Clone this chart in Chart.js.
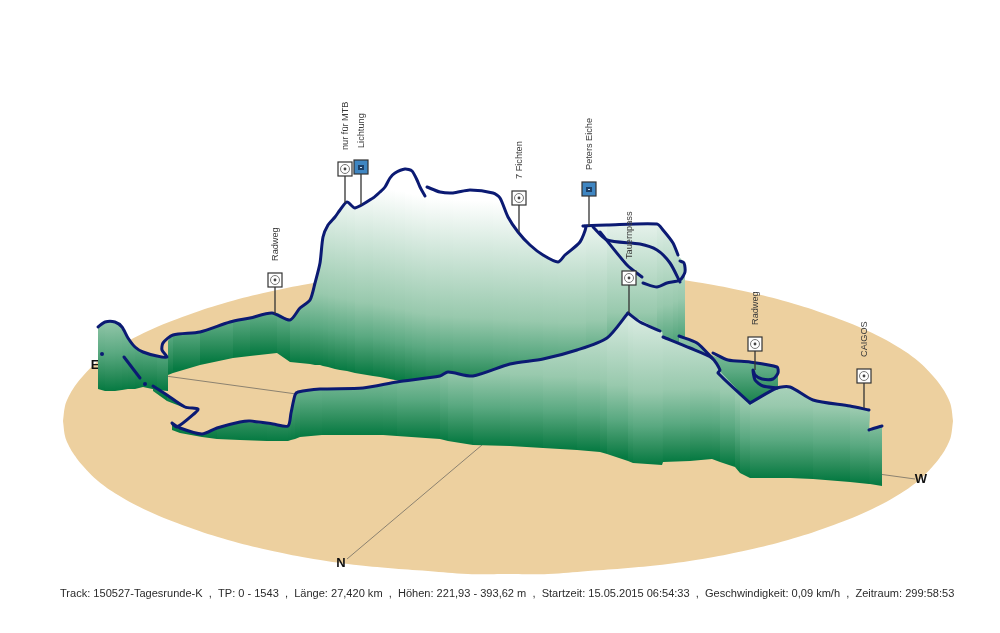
<!DOCTYPE html>
<html>
<head>
<meta charset="utf-8">
<title>150527-Tagesrunde-K</title>
<script src="https://cdn.jsdelivr.net/npm/chart.js"></script>
<style>
  html, body { margin: 0; padding: 0; background: #ffffff; }
  canvas { display: block; }
</style>
</head>
<body>
<canvas id="trackChart" width="1000" height="633"></canvas>
<script>
// ground plate outline
var groundX = [63, 65, 68, 73, 83, 98, 118, 148, 188, 228, 268, 308, 348, 388, 428, 468, 508, 548, 588, 628, 668, 708, 748, 788, 828, 868, 898, 918, 933, 943, 948, 951, 953];
var groundUpper = [421, 406, 398, 389, 376, 361, 347, 331, 315, 302, 292, 284, 278, 274, 271, 268, 268, 268, 271, 274, 278, 284, 292, 302, 315, 331, 347, 361, 376, 389, 398, 406, 421];
var groundLower = [421, 436, 444, 453, 466, 481, 495, 511, 527, 540, 550, 558, 564, 568, 571, 574, 574, 574, 571, 568, 564, 558, 550, 540, 527, 511, 495, 481, 466, 453, 444, 436, 421];

// compass lines
var eastWestX = [100, 915];
var eastWestY = [367, 479];
var northX = [347, 482];
var northY = [559, 445];
var compassNames = ["E", "W", "N"];
var compassX = [95, 921, 341];
var compassY = [365, 479, 563];

// elevation curtains: track height and its foot on the plate
var farX = [168, 173, 200, 233, 250, 277, 290, 300, 310, 315, 320, 323, 328, 335, 340, 347, 355, 373, 380, 385, 390, 395, 405, 412, 417, 420, 425, 426, 440, 453, 470, 493, 500, 508, 518, 530, 543, 558, 565, 580, 586, 607, 657, 663, 673, 678, 685];
var farTop = [341, 335, 332, 321, 318, 313, 320, 308, 300, 283, 263, 237, 225, 217, 210, 202, 208, 198, 192, 187, 178, 173, 169, 171, 180, 187, 196, 187, 192, 193, 190, 193, 198, 217, 232, 245, 255, 262, 255, 242, 226, 225, 224, 230, 243, 255, 263];
var farBase = [375, 373, 365, 358, 356, 353, 362, 363, 364, 365, 365, 366, 367, 369, 370, 371, 373, 376, 377, 378, 379, 380, 382, 384, 385, 385, 386, 386, 388, 389, 390, 391, 392, 392, 393, 393, 394, 395, 395, 395, 395, 390, 380, 378, 375, 372, 370];

var westX = [98, 105, 115, 122, 128, 135, 143, 157, 168];
var westTop = [327, 322, 322, 327, 338, 347, 352, 356, 357];
var westBase = [389, 391, 391, 390, 389, 389, 387, 390, 391];

var sliverX = [153, 167, 185];
var sliverTop = [386, 395, 407];
var sliverBase = [391, 401, 408];

var innerX = [679, 697, 712, 728, 750, 755, 777, 778];
var innerTop = [336, 343, 355, 360, 362, 363, 367, 367];
var innerBase = [405, 408, 410, 410, 410, 410, 410, 410];

var nearX = [172, 180, 202, 217, 240, 267, 288, 291, 295, 300, 322, 363, 383, 397, 440, 448, 473, 510, 543, 577, 600, 607, 628, 633, 662, 663, 690, 712, 720, 735, 740, 750, 763, 777, 790, 813, 850, 869, 870, 882];
var nearTop = [423, 428, 434, 428, 422, 424, 426, 413, 395, 392, 389, 388, 385, 382, 376, 372, 376, 364, 359, 350, 342, 338, 313, 316, 332, 337, 348, 358, 371, 387, 393, 403, 396, 388, 387, 400, 406, 410, 430, 426];
var nearBase = [430, 433, 437, 439, 440, 441, 441, 440, 439, 437, 435, 435, 435, 436, 439, 441, 445, 446, 448, 450, 452, 454, 461, 463, 465, 462, 461, 459, 462, 467, 473, 478, 478, 478, 478, 479, 482, 484, 484, 486];

// GPS track pieces, cut where the track has a sharp corner
var trackAX = [98, 105, 115, 122, 128, 135, 143, 157, 167, 162, 163, 173, 200, 230, 250, 272, 290, 300, 310, 315, 320, 323, 328, 335, 340, 347, 355, 373, 380, 385, 390, 395, 405, 412, 417, 420, 425];
var trackAY = [327, 322, 322, 327, 338, 347, 352, 356, 357, 350, 343, 335, 332, 322, 318, 313, 320, 308, 300, 283, 263, 237, 225, 217, 210, 202, 208, 198, 192, 187, 178, 173, 169, 171, 180, 187, 196];
var trackBX = [427, 440, 453, 470, 493, 500, 508, 518, 530, 543, 558, 565, 580, 586, 583, 607, 657, 663, 673, 678];
var trackBY = [187, 192, 193, 190, 193, 198, 217, 232, 245, 255, 262, 255, 242, 227, 226, 225, 224, 230, 243, 255];
var trackCX = [680, 684, 685, 680, 667, 657, 643];
var trackCY = [261, 263, 272, 280, 283, 287, 283];
var trackDX = [593, 607, 640, 657, 670, 680];
var trackDY = [227, 240, 244, 250, 263, 282];
var trackEX = [600, 627, 642];
var trackEY = [232, 265, 277];
var trackFX = [124, 140];
var trackFY = [357, 378];
var trackGX = [153, 167, 185, 198, 195, 177, 172, 180, 202, 217, 240, 250, 273, 288, 291, 295, 298, 320, 363, 397, 440, 448, 473, 510, 543, 577, 607, 628];
var trackGY = [386, 395, 407, 409, 413, 427, 423, 428, 434, 428, 422, 421, 424, 426, 413, 395, 392, 389, 388, 382, 376, 372, 376, 364, 359, 350, 338, 313];
var trackLX = [628, 640, 660];
var trackLY = [313, 322, 331];
var trackHX = [663, 690, 712, 720, 718, 750];
var trackHY = [337, 348, 358, 370, 373, 403];
var trackMX = [750, 777, 790, 813, 850, 869];
var trackMY = [403, 388, 387, 400, 406, 410];
var trackIX = [679, 697, 712];
var trackIY = [336, 343, 358];
var trackJX = [713, 728, 750, 777, 778, 773, 762, 755, 753, 755, 763, 777];
var trackJY = [353, 360, 362, 367, 373, 379, 379, 375, 370, 380, 386, 388];
var trackKX = [869, 875, 882];
var trackKY = [430, 428, 426];
var strayX = [102, 145];
var strayY = [354, 384];

// waypoints
var waypointNames = ["Radweg", "nur für MTB", "Lichtung", "7 Fichten", "Peters Eiche", "Tauernpass", "Radweg", "CAIGOS"];
var waypointX = [275, 345, 361, 519, 589, 629, 755, 864];
var waypointIconY = [280, 169, 167, 198, 189, 278, 344, 376];
var waypointFootY = [314, 203, 205, 232, 226, 313, 370, 408];
var waypointIsPhoto = [0, 0, 1, 0, 1, 0, 0, 0];

var captionText = "Track: 150527-Tagesrunde-K  ,  TP: 0 - 1543  ,  Länge: 27,420 km  ,  Höhen: 221,93 - 393,62 m  ,  Startzeit: 15.05.2015 06:54:33  ,  Geschwindigkeit: 0,09 km/h  ,  Zeitraum: 299:58:53";

var TRACK_COLOR = "#0b1a73";
var FONT_FAMILY = "'Liberation Sans', Arial, sans-serif";

function points(xs, ys) {
    return xs.map(function (x, i) {
        return { x: x, y: ys[i] };
    });
}

// color only depends on the height above the plate
function curtainColor(base) {
    return function (ctx) {
        var yScale = ctx.chart.scales.y;
        var foot = yScale.getPixelForValue((base[ctx.p0DataIndex] + base[ctx.p1DataIndex]) / 2);
        var gradient = ctx.chart.ctx.createLinearGradient(0, foot, 0, foot - 190);
        gradient.addColorStop(0, "#067a42");
        gradient.addColorStop(0.08, "#2a8c5a");
        gradient.addColorStop(0.2, "#5aa981");
        gradient.addColorStop(0.38, "#98c9ad");
        gradient.addColorStop(0.75, "#d5e9de");
        gradient.addColorStop(1, "#ffffff");
        return gradient;
    };
}

function curtain(xs, top, base, order) {
    return [
        {
            data: points(xs, top),
            order: order,
            fill: "+1",
            borderWidth: 0,
            pointRadius: 0,
            tension: 0.25,
            backgroundColor: "#96c8ab",
            segment: { backgroundColor: curtainColor(base) },
        },
        { data: points(xs, base), order: order, borderWidth: 0, pointRadius: 0 },
    ];
}

function track(xs, ys) {
    return {
        data: points(xs, ys),
        order: 10,
        borderColor: TRACK_COLOR,
        borderWidth: 3,
        borderCapStyle: "round",
        borderJoinStyle: "round",
        tension: 0.25,
        pointRadius: 0,
    };
}

function stem(i) {
    return {
        data: points([waypointX[i], waypointX[i]], [waypointIconY[i], waypointFootY[i]]),
        order: 5,
        borderColor: "#333333",
        borderWidth: 1.3,
        pointRadius: 0,
    };
}

function makeIcon(isPhoto) {
    var icon = document.createElement("canvas");
    icon.width = 16;
    icon.height = 16;
    var c = icon.getContext("2d");
    c.fillStyle = isPhoto ? "#3f86c2" : "#ffffff";
    c.fillRect(1, 1, 14, 14);
    c.strokeStyle = "#333333";
    c.lineWidth = 1.2;
    c.strokeRect(1, 1, 14, 14);
    if (isPhoto) {
        c.fillStyle = "#1d3f66";
        c.fillRect(5, 6, 6, 5);
        c.fillStyle = "#cfe2f3";
        c.fillRect(7, 8, 2, 1);
    } else {
        c.strokeStyle = "#777777";
        c.lineWidth = 1;
        c.beginPath();
        c.arc(8, 8, 4.5, 0, Math.PI * 2);
        c.stroke();
        c.fillStyle = "#444444";
        c.beginPath();
        c.arc(8, 8, 1.4, 0, Math.PI * 2);
        c.fill();
    }
    return icon;
}

var wayIcon = makeIcon(false);
var photoIcon = makeIcon(true);

// waypoint names and the status line go on top of everything
// the compass letters sit on the plate, behind the curtains
var textPlugin = {
    id: "textPlugin",
    afterDatasetDraw: function (chart, args) {
        if (args.index !== 2) {
            return;
        }
        var ctx = chart.ctx;
        ctx.save();
        ctx.textBaseline = "middle";
        ctx.fillStyle = "#111111";
        ctx.font = "bold 13px " + FONT_FAMILY;
        ctx.textAlign = "center";
        compassNames.forEach(function (name, i) {
            ctx.fillText(name, chart.scales.x.getPixelForValue(compassX[i]), chart.scales.y.getPixelForValue(compassY[i]));
        });
        ctx.restore();
    },
    afterDatasetsDraw: function (chart) {
        var ctx = chart.ctx;
        var xScale = chart.scales.x;
        var yScale = chart.scales.y;

        ctx.save();
        ctx.textBaseline = "middle";
        ctx.fillStyle = "#3a3a3a";
        ctx.font = "9.2px " + FONT_FAMILY;
        ctx.textAlign = "left";
        waypointNames.forEach(function (name, i) {
            ctx.save();
            ctx.translate(xScale.getPixelForValue(waypointX[i]), yScale.getPixelForValue(waypointIconY[i]) - 19);
            ctx.rotate(-Math.PI / 2);
            ctx.fillText(name, 0, 0);
            ctx.restore();
        });

        ctx.fillStyle = "#2b2b2b";
        ctx.font = "11.05px " + FONT_FAMILY;
        ctx.fillText(captionText, xScale.getPixelForValue(60), yScale.getPixelForValue(594));
        ctx.restore();
    },
};

var datasets = [];

datasets.push({
    data: points(groundX, groundUpper),
    order: 90,
    fill: "+1",
    borderWidth: 0,
    pointRadius: 0,
    tension: 0.4,
    backgroundColor: "#edd09f",
});
datasets.push({ data: points(groundX, groundLower), order: 90, borderWidth: 0, pointRadius: 0, tension: 0.4 });

[[eastWestX, eastWestY], [northX, northY]].forEach(function (line) {
    datasets.push({
        data: points(line[0], line[1]),
        order: 80,
        borderColor: "#8c8270",
        borderWidth: 1,
        pointRadius: 0,
    });
});

datasets = datasets.concat(
    curtain(farX, farTop, farBase, 70),
    curtain(innerX, innerTop, innerBase, 60),
    curtain(sliverX, sliverTop, sliverBase, 55),
    curtain(westX, westTop, westBase, 50),
    curtain(nearX, nearTop, nearBase, 40)
);

datasets.push(track(trackAX, trackAY));
datasets.push(track(trackBX, trackBY));
datasets.push(track(trackCX, trackCY));
datasets.push(track(trackDX, trackDY));
datasets.push(track(trackEX, trackEY));
datasets.push(track(trackFX, trackFY));
datasets.push(track(trackGX, trackGY));
datasets.push(track(trackLX, trackLY));
datasets.push(track(trackHX, trackHY));
datasets.push(track(trackMX, trackMY));
datasets.push(track(trackIX, trackIY));
datasets.push(track(trackJX, trackJY));
datasets.push(track(trackKX, trackKY));
datasets.push({
    data: points(strayX, strayY),
    order: 10,
    showLine: false,
    pointRadius: 2,
    pointBackgroundColor: TRACK_COLOR,
    pointBorderWidth: 0,
});

waypointNames.forEach(function (name, i) {
    datasets.push(stem(i));
});
datasets.push({
    data: points(waypointX, waypointIconY),
    order: 1,
    showLine: false,
    pointRadius: 8,
    pointStyle: function (ctx) {
        return waypointIsPhoto[ctx.dataIndex] ? photoIcon : wayIcon;
    },
});

new Chart(document.getElementById("trackChart"), {
    type: "line",
    data: { datasets: datasets },
    plugins: [textPlugin],
    options: {
        responsive: false,
        animation: false,
        devicePixelRatio: 1,
        layout: { padding: 0, autoPadding: false },
        plugins: {
            legend: { display: false },
            tooltip: { enabled: false },
        },
        scales: {
            x: { type: "linear", display: false, min: 0, max: 1000 },
            y: { type: "linear", display: false, min: 0, max: 633, reverse: true },
        },
    },
});
</script>
</body>
</html>
